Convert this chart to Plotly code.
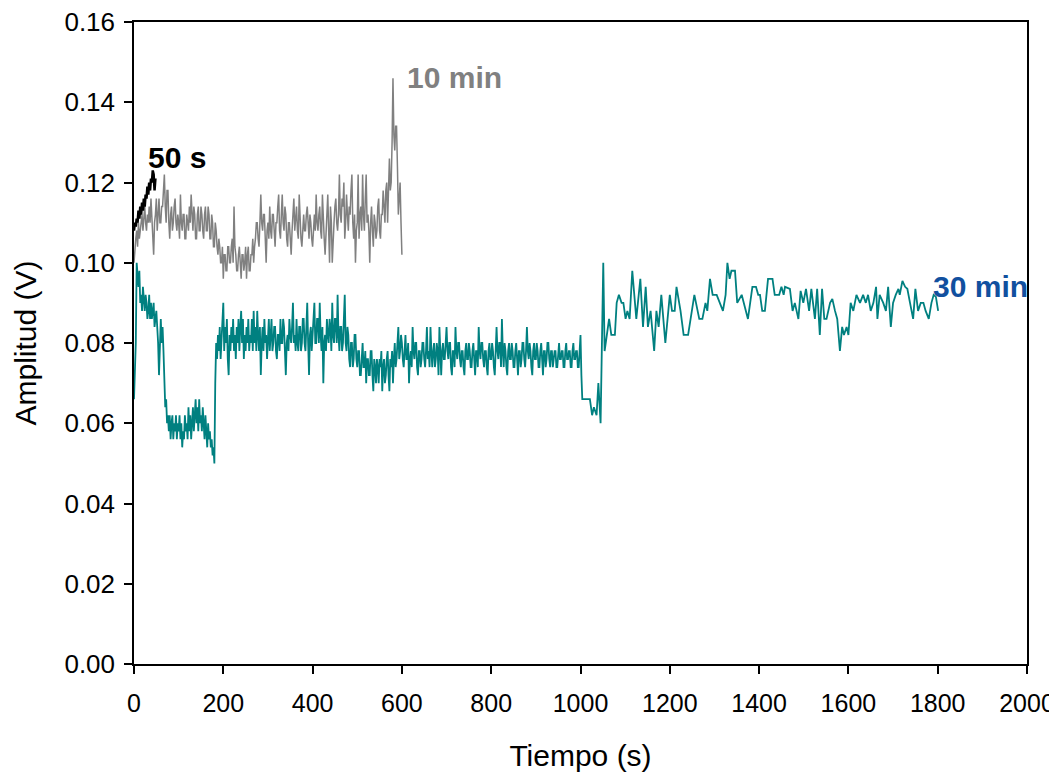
import plotly.graph_objects as go

# ---------------- data ----------------
# 50 s record (sampled every 2 s)
t_50s = list(range(0, 50, 2))
amp_50s = [0.108, 0.110, 0.109, 0.111, 0.110, 0.113, 0.111, 0.114, 0.112, 0.115,
           0.113, 0.116, 0.114, 0.117, 0.116, 0.119, 0.117, 0.120, 0.118, 0.121,
           0.120, 0.123, 0.122, 0.118, 0.121]

# 10 min record (sampled every 2 s)
t_10min = list(range(0, 601, 2))
amp_10min = [
    # 0-98 s
    0.100, 0.104, 0.106, 0.108, 0.104, 0.110, 0.106, 0.108, 0.110, 0.112,
    0.108, 0.112, 0.114, 0.110, 0.108, 0.112, 0.110, 0.114, 0.110, 0.116,
    0.112, 0.108, 0.102, 0.110, 0.112, 0.116, 0.108, 0.112, 0.116, 0.110,
    0.110, 0.114, 0.114, 0.118, 0.122, 0.114, 0.110, 0.118, 0.118, 0.110,
    0.106, 0.112, 0.114, 0.108, 0.110, 0.114, 0.116, 0.110, 0.108, 0.112,
    # 100-198 s
    0.110, 0.106, 0.117, 0.110, 0.108, 0.112, 0.112, 0.106, 0.106, 0.112,
    0.110, 0.108, 0.114, 0.110, 0.117, 0.110, 0.108, 0.114, 0.112, 0.106,
    0.106, 0.112, 0.114, 0.108, 0.108, 0.114, 0.112, 0.108, 0.106, 0.112,
    0.114, 0.108, 0.108, 0.114, 0.112, 0.106, 0.106, 0.112, 0.110, 0.104,
    0.104, 0.110, 0.108, 0.104, 0.102, 0.106, 0.104, 0.100, 0.100, 0.104,
    # 200-298 s
    0.096, 0.102, 0.102, 0.098, 0.098, 0.104, 0.104, 0.100, 0.100, 0.104,
    0.106, 0.100, 0.114, 0.104, 0.102, 0.098, 0.098, 0.102, 0.104, 0.100,
    0.096, 0.102, 0.102, 0.098, 0.100, 0.104, 0.096, 0.102, 0.104, 0.098,
    0.098, 0.102, 0.102, 0.106, 0.100, 0.104, 0.106, 0.110, 0.110, 0.106,
    0.104, 0.110, 0.117, 0.110, 0.108, 0.112, 0.112, 0.106, 0.100, 0.108,
    # 300-398 s
    0.110, 0.106, 0.114, 0.108, 0.106, 0.112, 0.112, 0.108, 0.104, 0.110,
    0.110, 0.114, 0.117, 0.108, 0.106, 0.112, 0.117, 0.110, 0.108, 0.114,
    0.112, 0.106, 0.104, 0.110, 0.110, 0.106, 0.102, 0.108, 0.112, 0.116,
    0.108, 0.112, 0.114, 0.108, 0.106, 0.117, 0.110, 0.106, 0.104, 0.110,
    0.112, 0.108, 0.108, 0.112, 0.114, 0.110, 0.106, 0.112, 0.110, 0.106,
    # 400-498 s
    0.104, 0.108, 0.112, 0.108, 0.117, 0.110, 0.108, 0.112, 0.114, 0.108,
    0.106, 0.117, 0.110, 0.106, 0.102, 0.108, 0.112, 0.117, 0.108, 0.100,
    0.114, 0.110, 0.100, 0.108, 0.110, 0.114, 0.116, 0.110, 0.108, 0.112,
    0.122, 0.112, 0.110, 0.116, 0.114, 0.120, 0.106, 0.110, 0.117, 0.112,
    0.108, 0.114, 0.112, 0.118, 0.122, 0.110, 0.106, 0.112, 0.100, 0.108,
    # 500-600 s
    0.110, 0.122, 0.106, 0.112, 0.114, 0.108, 0.122, 0.112, 0.108, 0.116,
    0.122, 0.110, 0.112, 0.108, 0.100, 0.110, 0.114, 0.108, 0.104, 0.112,
    0.110, 0.106, 0.108, 0.114, 0.116, 0.108, 0.106, 0.112, 0.112, 0.118,
    0.114, 0.110, 0.118, 0.120, 0.110, 0.122, 0.126, 0.118, 0.120, 0.130,
    0.146, 0.132, 0.128, 0.134, 0.134, 0.124, 0.112, 0.116, 0.120, 0.110,
    0.102]

# 30 min record: dense part (every 2 s up to 1000 s)
t_30min_dense = list(range(0, 1001, 2))
amp_30min_dense = [
    # 0-98 s
    0.066, 0.072, 0.080, 0.100, 0.096, 0.094, 0.098, 0.090, 0.092, 0.088,
    0.094, 0.090, 0.088, 0.092, 0.090, 0.086, 0.088, 0.092, 0.086, 0.090,
    0.086, 0.088, 0.090, 0.084, 0.086, 0.088, 0.084, 0.080, 0.072, 0.082,
    0.086, 0.080, 0.084, 0.078, 0.070, 0.064, 0.066, 0.060, 0.062, 0.058,
    0.062, 0.056, 0.060, 0.062, 0.056, 0.060, 0.058, 0.062, 0.056, 0.060,
    # 100-198 s
    0.058, 0.062, 0.056, 0.060, 0.054, 0.058, 0.056, 0.062, 0.058, 0.060,
    0.056, 0.064, 0.058, 0.062, 0.056, 0.060, 0.064, 0.058, 0.062, 0.066,
    0.060, 0.064, 0.058, 0.066, 0.060, 0.062, 0.058, 0.064, 0.060, 0.056,
    0.062, 0.058, 0.054, 0.060, 0.056, 0.058, 0.054, 0.056, 0.052, 0.054,
    0.050, 0.070, 0.080, 0.076, 0.082, 0.078, 0.084, 0.076, 0.080, 0.086,
    # 200-298 s
    0.090, 0.078, 0.084, 0.080, 0.086, 0.076, 0.072, 0.082, 0.078, 0.084,
    0.080, 0.086, 0.078, 0.082, 0.076, 0.084, 0.080, 0.086, 0.078, 0.084,
    0.088, 0.080, 0.086, 0.076, 0.082, 0.078, 0.084, 0.080, 0.086, 0.078,
    0.082, 0.080, 0.086, 0.078, 0.088, 0.080, 0.084, 0.078, 0.088, 0.082,
    0.078, 0.084, 0.072, 0.080, 0.084, 0.078, 0.086, 0.080, 0.082, 0.076,
    # 300-398 s
    0.082, 0.086, 0.078, 0.084, 0.086, 0.078, 0.080, 0.084, 0.084, 0.078,
    0.076, 0.082, 0.082, 0.078, 0.086, 0.080, 0.080, 0.086, 0.084, 0.078,
    0.072, 0.080, 0.082, 0.078, 0.086, 0.082, 0.080, 0.084, 0.090, 0.080,
    0.082, 0.078, 0.086, 0.080, 0.078, 0.084, 0.084, 0.078, 0.080, 0.086,
    0.086, 0.080, 0.078, 0.084, 0.090, 0.080, 0.072, 0.082, 0.084, 0.078,
    # 400-498 s
    0.082, 0.086, 0.090, 0.080, 0.080, 0.086, 0.086, 0.080, 0.090, 0.082,
    0.078, 0.084, 0.070, 0.080, 0.082, 0.078, 0.086, 0.082, 0.080, 0.086,
    0.084, 0.078, 0.090, 0.082, 0.080, 0.086, 0.086, 0.080, 0.092, 0.082,
    0.078, 0.084, 0.084, 0.078, 0.080, 0.086, 0.092, 0.080, 0.078, 0.084,
    0.082, 0.076, 0.074, 0.080, 0.080, 0.074, 0.076, 0.082, 0.082, 0.076,
    # 500-598 s
    0.074, 0.078, 0.078, 0.072, 0.072, 0.076, 0.080, 0.074, 0.074, 0.078,
    0.070, 0.076, 0.076, 0.072, 0.072, 0.078, 0.078, 0.072, 0.068, 0.076,
    0.074, 0.070, 0.076, 0.074, 0.070, 0.076, 0.074, 0.078, 0.068, 0.074,
    0.076, 0.070, 0.072, 0.076, 0.078, 0.072, 0.068, 0.076, 0.074, 0.078,
    0.070, 0.076, 0.080, 0.074, 0.076, 0.080, 0.084, 0.076, 0.078, 0.082,
    # 600-698 s
    0.080, 0.076, 0.074, 0.078, 0.082, 0.076, 0.076, 0.080, 0.070, 0.076,
    0.078, 0.074, 0.084, 0.078, 0.076, 0.080, 0.080, 0.074, 0.072, 0.078,
    0.078, 0.074, 0.076, 0.080, 0.080, 0.076, 0.074, 0.078, 0.084, 0.076,
    0.078, 0.074, 0.084, 0.078, 0.074, 0.078, 0.080, 0.074, 0.076, 0.080,
    0.078, 0.072, 0.084, 0.078, 0.072, 0.078, 0.080, 0.076, 0.076, 0.080,
    # 700-798 s
    0.084, 0.078, 0.076, 0.080, 0.080, 0.074, 0.072, 0.078, 0.078, 0.074,
    0.084, 0.078, 0.076, 0.080, 0.080, 0.076, 0.074, 0.078, 0.078, 0.074,
    0.072, 0.078, 0.080, 0.076, 0.076, 0.080, 0.078, 0.074, 0.074, 0.078,
    0.080, 0.076, 0.072, 0.078, 0.078, 0.074, 0.084, 0.078, 0.076, 0.080,
    0.080, 0.076, 0.074, 0.078, 0.078, 0.074, 0.072, 0.078, 0.080, 0.076,
    # 800-898 s
    0.076, 0.080, 0.078, 0.074, 0.072, 0.078, 0.084, 0.078, 0.076, 0.080,
    0.080, 0.074, 0.086, 0.078, 0.074, 0.080, 0.078, 0.074, 0.072, 0.078,
    0.080, 0.076, 0.076, 0.080, 0.078, 0.074, 0.074, 0.078, 0.080, 0.076,
    0.072, 0.078, 0.078, 0.074, 0.076, 0.080, 0.080, 0.076, 0.074, 0.078,
    0.084, 0.078, 0.076, 0.080, 0.078, 0.074, 0.072, 0.078, 0.080, 0.076,
    # 900-1000 s
    0.076, 0.080, 0.078, 0.074, 0.074, 0.078, 0.080, 0.076, 0.072, 0.078,
    0.078, 0.074, 0.076, 0.080, 0.080, 0.076, 0.074, 0.078, 0.078, 0.074,
    0.076, 0.078, 0.078, 0.074, 0.074, 0.078, 0.080, 0.076, 0.076, 0.078,
    0.078, 0.074, 0.074, 0.078, 0.080, 0.076, 0.076, 0.078, 0.078, 0.074,
    0.074, 0.078, 0.080, 0.076, 0.076, 0.078, 0.078, 0.074, 0.074, 0.078,
    0.082]

# 30 min record: sparse tail after 1000 s
t_30min_tail = [
    1002, 1004, 1021, 1026, 1030, 1036, 1040, 1042, 1045, 1051, 1054, 1064, 1069,
    1077, 1081, 1086, 1092, 1096, 1101, 1105, 1110, 1116, 1125, 1134, 1140, 1146,
    1151, 1157, 1165, 1170, 1175, 1181, 1190, 1200, 1205, 1211, 1215, 1224, 1231,
    1241, 1255, 1266, 1273, 1280, 1284, 1290, 1296, 1305, 1312, 1319, 1325, 1329,
    1334, 1338, 1346, 1351, 1361, 1366, 1375, 1385, 1393, 1398, 1402, 1407, 1413,
    1420, 1430, 1435, 1445, 1450, 1455, 1458, 1469, 1475, 1480, 1488, 1493, 1499,
    1505, 1512, 1517, 1525, 1530, 1536, 1541, 1546, 1551, 1559, 1564, 1570, 1575,
    1581, 1586, 1590, 1596, 1600, 1605, 1611, 1618, 1626, 1633, 1639, 1644, 1650,
    1656, 1662, 1665, 1670, 1678, 1684, 1689, 1695, 1700, 1706, 1712, 1715, 1721,
    1727, 1732, 1738, 1745, 1750, 1756, 1762, 1768, 1773, 1780, 1786, 1791, 1796,
    1801]
amp_30min_tail = [
    0.072, 0.066, 0.066, 0.062, 0.064, 0.062, 0.070, 0.067, 0.060, 0.100, 0.078, 0.086, 0.082,
    0.082, 0.090, 0.092, 0.090, 0.090, 0.086, 0.088, 0.086, 0.098, 0.086, 0.096, 0.084, 0.094,
    0.084, 0.088, 0.078, 0.088, 0.084, 0.092, 0.080, 0.092, 0.088, 0.088, 0.094, 0.088, 0.082,
    0.082, 0.092, 0.086, 0.086, 0.090, 0.088, 0.096, 0.092, 0.092, 0.090, 0.088, 0.092, 0.100,
    0.096, 0.098, 0.098, 0.090, 0.092, 0.090, 0.086, 0.094, 0.094, 0.092, 0.092, 0.088, 0.088,
    0.096, 0.096, 0.092, 0.092, 0.094, 0.092, 0.094, 0.0935, 0.088, 0.090, 0.086, 0.093, 0.090,
    0.0935, 0.088, 0.0935, 0.086, 0.0935, 0.082, 0.0935, 0.086, 0.086, 0.090, 0.091, 0.088, 0.086,
    0.078, 0.084, 0.082, 0.084, 0.082, 0.090, 0.088, 0.092, 0.090, 0.092, 0.090, 0.092, 0.088,
    0.090, 0.094, 0.086, 0.092, 0.090, 0.088, 0.094, 0.084, 0.090, 0.092, 0.0935, 0.092, 0.0955,
    0.094, 0.0935, 0.090, 0.086, 0.0935, 0.088, 0.090, 0.090, 0.088, 0.086, 0.090, 0.092, 0.0915,
    0.088]

x_ticks = [0, 200, 400, 600, 800, 1000, 1200, 1400, 1600, 1800, 2000]
y_ticks = [0.00, 0.02, 0.04, 0.06, 0.08, 0.10, 0.12, 0.14, 0.16]

t_30min = t_30min_dense + t_30min_tail
amp_30min = amp_30min_dense + amp_30min_tail

FONT = "Liberation Sans, Arial, sans-serif"

fig = go.Figure()
fig.add_trace(go.Scatter(x=t_30min, y=amp_30min, mode="lines",
                         line=dict(color="#008080", width=1.8), name="30 min"))
fig.add_trace(go.Scatter(x=t_10min, y=amp_10min, mode="lines",
                         line=dict(color="#808080", width=1.5), name="10 min"))
fig.add_trace(go.Scatter(x=t_50s, y=amp_50s, mode="lines",
                         line=dict(color="#000000", width=2.5), name="50 s"))

ann_font = dict(family=FONT, size=30)
fig.add_annotation(x=26, y=0.1262, text="<b>50 s</b>", showarrow=False,
                   xanchor="left", yanchor="middle", font=dict(ann_font, color="#000000"))
fig.add_annotation(x=608, y=0.1462, text="<b>10 min</b>", showarrow=False,
                   xanchor="left", yanchor="middle", font=dict(ann_font, color="#808080"))
fig.add_annotation(x=1786, y=0.0940, text="<b>30 min</b>", showarrow=False,
                   xanchor="left", yanchor="middle", font=dict(ann_font, color="#11509F"))

axis_common = dict(showline=True, linecolor="black", linewidth=1.5, mirror=True,
                   ticks="outside", ticklen=8, tickwidth=1.5, tickcolor="black",
                   showgrid=False, zeroline=False, ticklabeloverflow="allow",
                   automargin=False,
                   tickfont=dict(family=FONT, size=26, color="black"))

fig.update_layout(
    width=1057, height=773,
    margin=dict(l=126, r=38, t=14, b=117),
    paper_bgcolor="white", plot_bgcolor="white",
    showlegend=False,
    xaxis=dict(axis_common, range=[0, 2000], tickvals=x_ticks, ticklabelstandoff=8,
               tickfont=dict(family=FONT, size=25, color="black"),
               title=dict(text="Tiempo (s)", font=dict(family=FONT, size=30, color="black"),
                          standoff=29)),
    yaxis=dict(axis_common, range=[0, 0.16], tickvals=y_ticks, tickformat=".2f",
               ticklabelstandoff=4,
               title=dict(text="Amplitud (V)", font=dict(family=FONT, size=30, color="black"),
                          standoff=19)),
)

fig.write_html("out.html")
